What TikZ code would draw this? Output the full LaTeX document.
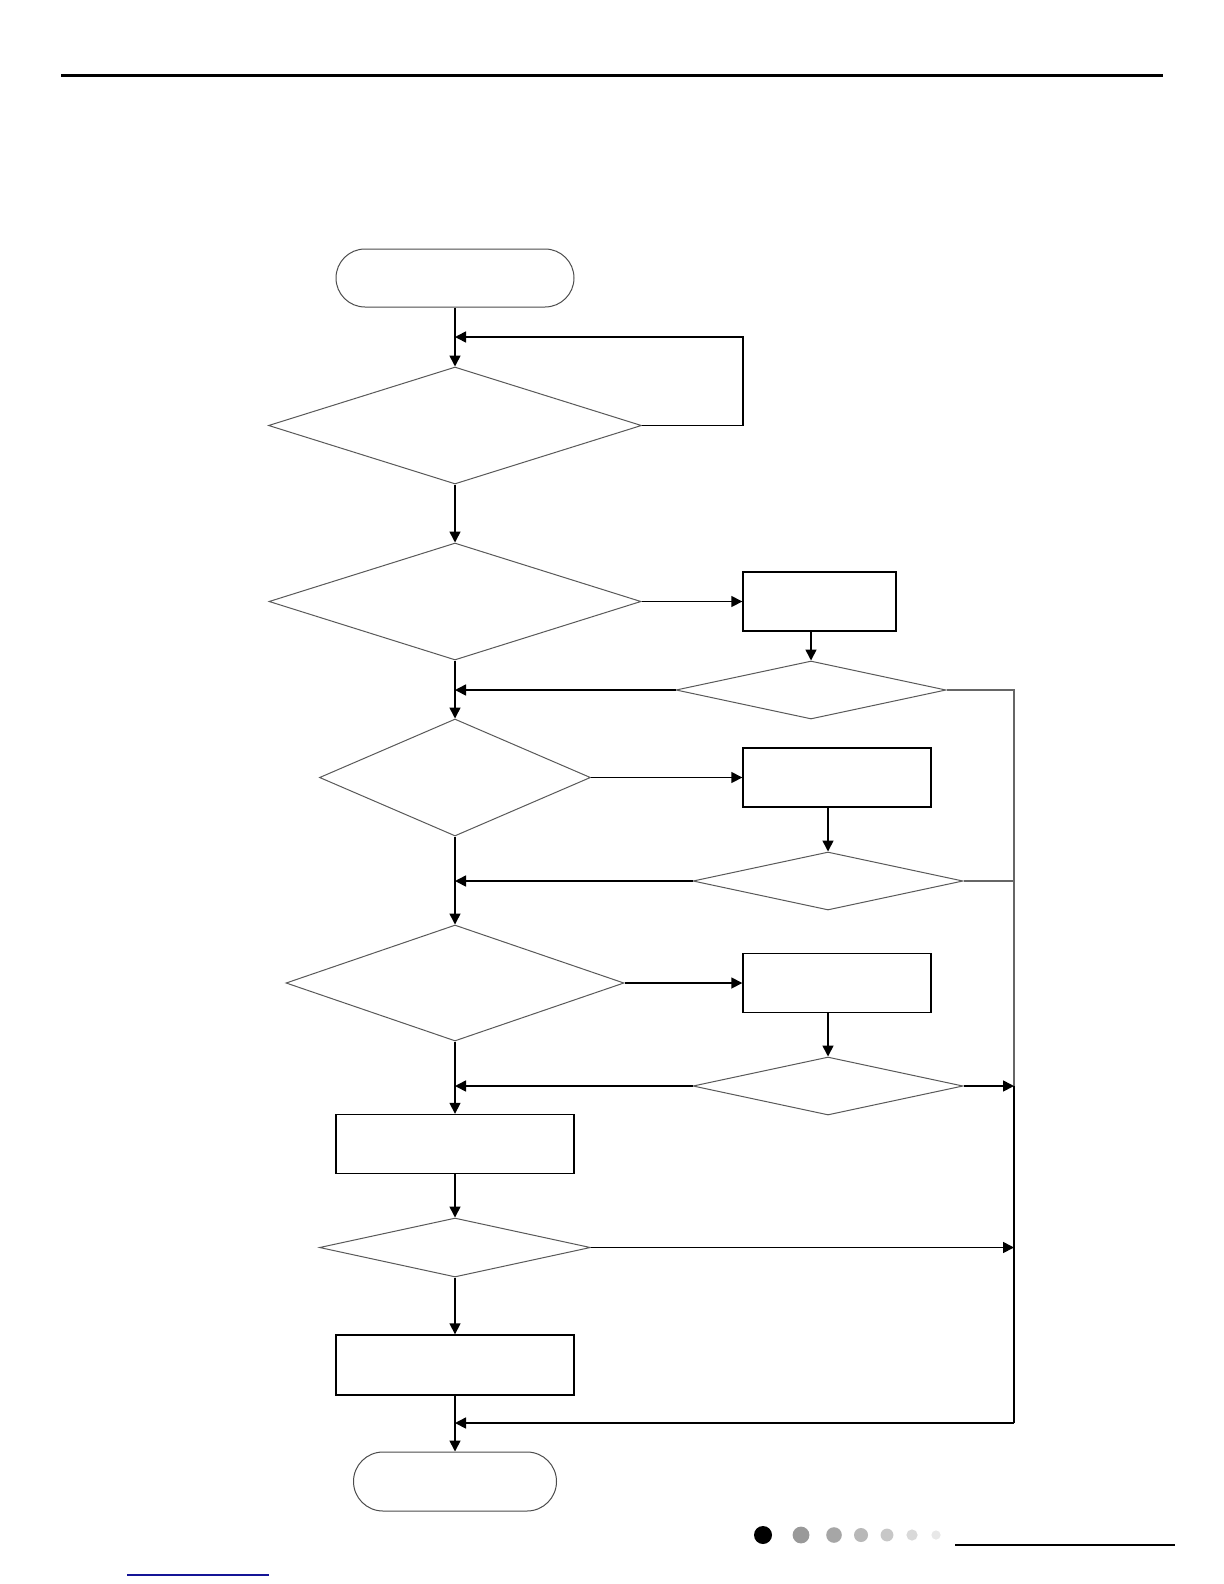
\documentclass[tikz,border=0pt]{standalone}
\usepackage{xcolor}
\usepackage{tikz}
\usetikzlibrary{arrows.meta, shapes.geometric}
\definecolor{linkblue}{RGB}{20,20,150}

\begin{document}
\begin{tikzpicture}[x=0.5pt, y=-0.5pt,
  term/.style={draw=black!70, line width=0.5pt, inner sep=0pt},
  box/.style={draw, line width=0.7pt, inner sep=0pt, minimum height=29.5pt},
  dec/.style={diamond, draw=black!65, line width=0.5pt, inner sep=0pt},
  arr/.style={-{Triangle[length=5.5pt, width=5.5pt]}, line width=0.8pt}]
  \useasboundingbox[fill=white] (0,0) rectangle (1224,1584);
  \draw[line width=1.5pt] (61,76) -- (1163,76);

  \node[term, rounded corners=14.5pt, minimum width=119pt, minimum height=29pt]   (start) at (455,278) {};
  \node[dec, minimum width=186.5pt, minimum height=58.5pt] (d1) at (455,425.5) {};
  \node[dec, minimum width=186pt, minimum height=58.5pt]   (d2) at (455,601.5) {};
  \node[dec, minimum width=135.5pt, minimum height=58.5pt] (d3) at (455,777.5) {};
  \node[dec, minimum width=169pt, minimum height=58pt]     (d4) at (455,983) {};
  \node[box, minimum width=119pt]                          (bD) at (455,1144) {};
  \node[dec, minimum width=135.5pt, minimum height=29.5pt] (d5) at (455,1247.5) {};
  \node[box, minimum width=119pt, minimum height=30pt]     (bE) at (455,1365) {};
  \node[term, rounded corners=14.75pt, minimum width=101.5pt, minimum height=29.5pt] (stop) at (455,1481.5) {};

  \node[box, minimum width=76.5pt] (bA) at (819.5,601.5) {};
  \node[dec, minimum width=135pt, minimum height=29pt]     (dA) at (811,690) {};
  \node[box, minimum width=94pt]   (bB) at (837,777.5) {};
  \node[dec, minimum width=135pt, minimum height=29pt]     (dB) at (828,881) {};
  \node[box, minimum width=94pt]   (bC) at (837,983) {};
  \node[dec, minimum width=135pt, minimum height=29pt]     (dC) at (828,1086) {};

  \coordinate (lp)   at (743,337);
  \coordinate (rtop) at (1014,690);
  \coordinate (rbot) at (1014,1423);

  \draw[arr] (start) -- (d1); \draw[arr] (d1) -- (d2);
  \draw[arr] (d2) -- (d3); \draw[arr] (d3) -- (d4);
  \draw[arr] (d4) -- (bD); \draw[arr] (bD) -- (d5);
  \draw[arr] (d5) -- (bE); \draw[arr] (bE) -- (stop);
  \draw[arr] (d1.east) -| (lp) -- (lp -| start.south);

  \draw[arr] (d2.east) -- (bA.west); \draw[arr] (dA.north |- bA.south) -- (dA.north);
  \draw[arr] (d3.east) -- (bB.west); \draw[arr] (dB.north |- bB.south) -- (dB.north);
  \draw[arr] (d4.east) -- (bC.west); \draw[arr] (dC.north |- bC.south) -- (dC.north);
  \draw[arr] (dA.west) -- (dA.west -| d2.south);
  \draw[arr] (dB.west) -- (dB.west -| d3.south);
  \draw[arr] (dC.west) -- (dC.west -| d4.south);

  \draw[black!60, line width=0.6pt] (dA.east) -- (rtop) -- (rtop |- dC.east);
  \draw[black!60, line width=0.6pt] (dB.east) -- (dB.east -| rtop);
  \draw[line width=0.8pt] (rtop |- dC.east) -- (rbot);
  \draw[arr] (dC.east) -- (dC.east -| rtop);
  \draw[arr] (d5.east) -- (d5.east -| rtop);
  \draw[arr] (rbot) -- (rbot -| bE.south);

  \fill[black]   (763,1535) circle (4.5pt);
  \fill[black!40] (801,1535) circle (4.2pt);
  \fill[black!35] (834,1535) circle (3.9pt);
  \fill[black!28] (861,1535) circle (3.5pt);
  \fill[black!22] (887,1535) circle (3.2pt);
  \fill[black!15] (912,1535) circle (2.8pt);
  \fill[black!9]  (936,1535) circle (2.3pt);
  \draw[line width=1.2pt] (955,1545) -- (1175,1545);
  \draw[linkblue, line width=0.6pt] (127,1575) -- (269,1575);
\end{tikzpicture}
\end{document}
